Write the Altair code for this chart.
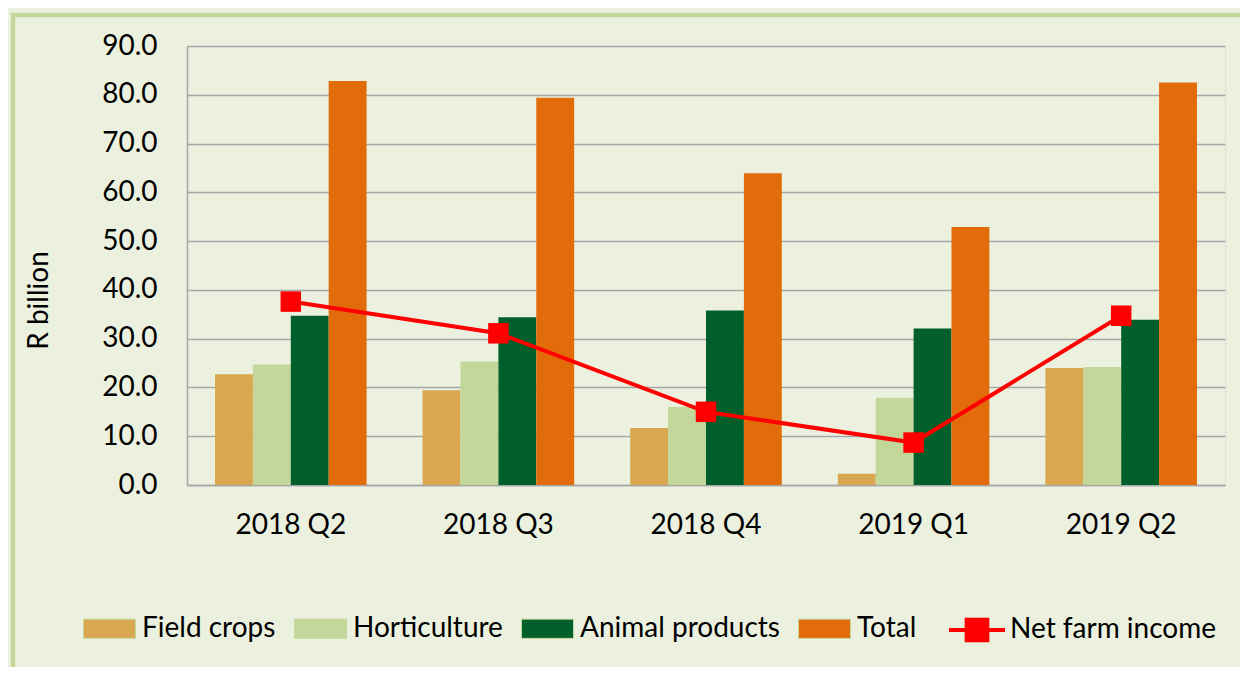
import altair as alt
import pandas as pd

quarters = ["2018 Q2", "2018 Q3", "2018 Q4", "2019 Q1", "2019 Q2"]
series = ["Field crops", "Horticulture", "Animal products", "Total"]
field_crops = [22.7, 19.4, 11.7, 2.3, 24.0]
horticulture = [24.7, 25.3, 16.0, 17.9, 24.2]
animal_products = [34.7, 34.4, 35.8, 32.1, 33.9]
total = [82.8, 79.4, 63.9, 52.9, 82.5]
net_farm_income = [37.6, 31.1, 15.0, 8.7, 34.7]
bar_colors = ["#D9A74F", "#C4D79B", "#005F2B", "#E36C0A"]
line_color = "#FF0000"
y_ticks = [0, 10, 20, 30, 40, 50, 60, 70, 80, 90]

rows = []
for name, vals in zip(series, [field_crops, horticulture, animal_products, total]):
    for q, v in zip(quarters, vals):
        rows.append({"quarter": q, "series": name, "value": v})
bars_df = pd.DataFrame(rows)
line_df = pd.DataFrame({"quarter": quarters, "value": net_farm_income,
                        "series": ["Net farm income"] * len(quarters)})

x_enc = alt.X("quarter:N", sort=quarters, title=None,
              scale=alt.Scale(paddingInner=0.27, paddingOuter=0.135),
              axis=alt.Axis(labelAngle=0, ticks=False, labelPadding=26,
                            domainColor="#A6A6A6", domainWidth=1.5))
y_enc = alt.Y("value:Q", title="R billion",
              scale=alt.Scale(domain=[0, 90], nice=False),
              axis=alt.Axis(values=y_ticks, format=".1f", ticks=False,
                            labelPadding=30, domainColor="#A6A6A6", domainWidth=1.5,
                            gridColor="#A6A6A6", gridWidth=1.5,
                            titleX=-148, titleY=254, titleAngle=270,
                            titleAlign="center", titleBaseline="middle",
                            titleFontWeight="normal", titleFontSize=28))

frame = alt.Chart(pd.DataFrame({"a": [0]})).mark_rect(
    fill=None, stroke="#C3D69B", strokeWidth=4.5
).encode(x=alt.value(-174), x2=alt.value(1400), y=alt.value(-31), y2=alt.value(900))

bars = alt.Chart(bars_df).mark_bar().encode(
    x=x_enc,
    xOffset=alt.XOffset("series:N", sort=series),
    y=y_enc,
    color=alt.Color("series:N", sort=series,
                    scale=alt.Scale(domain=series, range=bar_colors),
                    legend=alt.Legend(title=None, orient="none", direction="horizontal",
                                      columns=4, legendX=-104, legendY=556,
                                      symbolType="M-1,-0.37L1,-0.37L1,0.37L-1,0.37Z",
                                      symbolSize=2704, symbolStrokeColor="#C4D79B",
                                      symbolStrokeWidth=1, labelFontSize=28,
                                      labelOffset=6, columnPadding=16, padding=0,
                                      labelLimit=0, labelColor="#000000")),
)

line = alt.Chart(line_df).mark_line(
    strokeWidth=4,
    point=alt.OverlayMarkDef(shape="square", size=420, filled=True, color=line_color, opacity=1),
).encode(
    x=alt.X("quarter:N", sort=quarters),
    y=alt.Y("value:Q"),
    color=alt.Color("series:N",
                    scale=alt.Scale(domain=["Net farm income"], range=[line_color]),
                    legend=alt.Legend(title=None, orient="none", legendX=760, legendY=554,
                                      symbolType="M-1,0L1,0M-0.37,-0.37L0.37,-0.37L0.37,0.37L-0.37,0.37Z",
                                      symbolSize=3136, symbolStrokeWidth=4,
                                      symbolFillColor=line_color, symbolStrokeColor=line_color,
                                      labelFontSize=28, labelOffset=3, padding=0,
                                      labelLimit=0, labelColor="#000000")),
)

chart = alt.layer(frame, bars, line).resolve_scale(color="independent").properties(
    width=1038, height=439,
    autosize=alt.AutoSizeParams(type="none"),
    padding={"left": 179, "top": 38, "right": 15, "bottom": 182},
    background="#EBF1DE",
).configure_view(
    fill="#FFFFFF", stroke=None
).configure(
    font="Lato"
).configure_axis(
    labelFont="Lato", labelFontSize=28, labelColor="#000000",
    titleFont="Lato", titleColor="#000000",
    grid=False
).configure_axisY(
    grid=True
).configure_legend(
    labelFont="Lato"
)

chart.save("out.html", embed_options={"renderer": "svg", "actions": False})
